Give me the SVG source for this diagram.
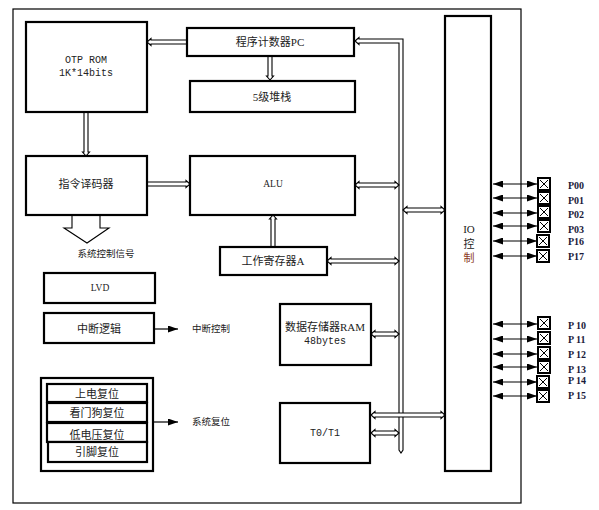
<svg xmlns="http://www.w3.org/2000/svg" xmlns:xlink="http://www.w3.org/1999/xlink" width="599" height="510" viewBox="0 0 599 510">
<style>
.box{fill:#fff;stroke:#000;stroke-width:2.2}
.hol{fill:#fff;stroke:#000;stroke-width:1.1;stroke-linejoin:miter}
.cn{font-family:"Liberation Serif","Noto Sans CJK SC",serif;font-size:11px;fill:#222;text-anchor:middle;dominant-baseline:central}
.sm{font-size:9.5px}
.mono{font-family:"Liberation Mono","Noto Sans CJK SC",monospace;font-size:10px;fill:#222;text-anchor:middle;dominant-baseline:central}
.pl{font-family:"Liberation Serif",serif;font-size:10px;font-weight:bold;fill:#1a1a3a;dominant-baseline:central}
.pin{stroke:#000;stroke-width:1.2;marker-start:url(#ah);marker-end:url(#ah)}
.arr{stroke:#000;stroke-width:1.2;marker-end:url(#ah)}
</style>
<defs>
<marker id="ah" viewBox="0 0 10 7" refX="10" refY="3.5" markerWidth="10" markerHeight="7" markerUnits="userSpaceOnUse" orient="auto-start-reverse">
<path d="M0,0 L10,3.5 L0,7 Z" fill="#000"/>
</marker>
<g id="pb">
<rect x="0" y="0" width="12" height="12" fill="#fff" stroke="#000" stroke-width="2"/>
<path d="M2,2 L10,10 M10,2 L2,10" stroke="#000" stroke-width="1"/>
</g>
</defs>
<rect width="599" height="510" fill="#fff"/>
<rect id="frame" x="13" y="9" width="508" height="494" fill="none" stroke="#000" stroke-width="1.2"/>

<g id="connectors">
<path class="hol" d="M355,41 L359,37.5 L359,39 L403,39 L403,450 L401,453 L399,450 L399,43 L359,43 L359,44.5 Z"/>
<polygon class="hol" points="147,42 151,38.5 151,40 187,40 187,44 151,44 151,45.5"/>
<polygon class="hol" points="270,80 266.5,76 268,76 268,56 272,56 272,76 273.5,76"/>
<polygon class="hol" points="86,156 82.5,152 84,152 84,112 88,112 88,152 89.5,152"/>
<polygon class="hol" points="190,184 186,180.5 186,182 147,182 147,186 186,186 186,187.5"/>
<polygon class="hol" points="273,215 269.5,219 271,219 271,247 275,247 275,219 276.5,219"/>
<polygon class="hol" points="355,185 359,181.5 359,183 395,183 395,181.5 399,185 395,188.5 395,187 359,187 359,188.5"/>
<polygon class="hol" points="403,210 407,206.5 407,208 441,208 441,206.5 445,210 441,213.5 441,212 407,212 407,213.5"/>
<polygon class="hol" points="327,261 331,257.5 331,259 395,259 395,257.5 399,261 395,264.5 395,263 331,263 331,264.5"/>
<polygon class="hol" points="371,334 375,330.5 375,332 395,332 395,330.5 399,334 395,337.5 395,336 375,336 375,337.5"/>
<polygon class="hol" points="371,415 375,411.5 375,413 441,413 441,411.5 445,415 441,418.5 441,417 375,417 375,418.5"/>
<polygon class="hol" points="371,433 375,429.5 375,431 395,431 395,429.5 399,433 395,436.5 395,435 375,435 375,436.5"/>
<polygon class="hol" points="64,228 72,228 72,215 100,215 100,228 109,228 87,243"/>
<line class="arr" x1="154" y1="329" x2="178" y2="329"/>
<line class="arr" x1="153" y1="422" x2="178" y2="422"/>
<line class="pin" x1="493" y1="184" x2="537" y2="184"/>
<line class="pin" x1="493" y1="198" x2="537" y2="198"/>
<line class="pin" x1="493" y1="213" x2="537" y2="213"/>
<line class="pin" x1="493" y1="226" x2="537" y2="226"/>
<line class="pin" x1="493" y1="241" x2="537" y2="241"/>
<line class="pin" x1="493" y1="256" x2="537" y2="256"/>
<line class="pin" x1="493" y1="324" x2="537" y2="324"/>
<line class="pin" x1="493" y1="339" x2="537" y2="339"/>
<line class="pin" x1="493" y1="354" x2="537" y2="354"/>
<line class="pin" x1="493" y1="367" x2="537" y2="367"/>
<line class="pin" x1="493" y1="382" x2="537" y2="382"/>
<line class="pin" x1="493" y1="396" x2="537" y2="396"/>
</g>

<g id="rom"><rect class="box" x="26" y="22" width="121" height="90"/>
<text class="mono" x="86" y="60">OTP ROM</text><text class="mono" x="86" y="73">1K*14bits</text></g>
<g id="pc"><rect class="box" x="187" y="28" width="167" height="28"/><text class="cn" x="270" y="42">程序计数器PC</text></g>
<g id="stack"><rect class="box" x="190" y="81" width="165" height="31"/><text class="cn" x="272" y="97">5级堆栈</text></g>
<g id="decoder"><rect class="box" x="26" y="156" width="121" height="59"/><text class="cn" x="86" y="184">指令译码器</text></g>
<g id="alu"><rect class="box" x="190" y="156" width="165" height="59"/><text class="cn sm" x="273" y="184">ALU</text></g>
<g id="acc"><rect class="box" x="220" y="247" width="107" height="28"/><text class="cn" x="273" y="261">工作寄存器A</text></g>
<g id="ram"><rect class="box" x="280" y="304" width="91" height="61"/><text class="cn" x="325" y="327">数据存储器RAM</text><text class="mono" x="325" y="341">48bytes</text></g>
<g id="timer"><rect class="box" x="280" y="403" width="90" height="60"/><text class="mono" x="325" y="433">T0/T1</text></g>
<g id="io"><rect class="box" x="445" y="16" width="46" height="455"/>
<text class="cn" x="469" y="229">IO</text><text class="cn" x="469" y="244">控</text><text class="cn" x="469" y="258" style="fill:#8b3a1e">制</text></g>
<g id="sysctl"><text class="cn sm" x="106" y="254">系统控制信号</text></g>
<g id="lvd"><rect class="box" x="44" y="273" width="111" height="30"/><text class="cn sm" x="100" y="288">LVD</text></g>
<g id="int"><rect class="box" x="44" y="313" width="110" height="30"/><text class="cn" x="99" y="329">中断逻辑</text></g>
<g id="intctl"><text class="cn sm" x="211" y="329">中断控制</text></g>
<g id="reset"><rect class="box" x="41" y="378" width="112" height="93"/>
<rect class="box" x="47" y="384" width="100" height="18"/><text class="cn" x="97" y="394">上电复位</text>
<rect class="box" x="47" y="403" width="100" height="19"/><text class="cn" x="97" y="413">看门狗复位</text>
<rect class="box" x="47" y="423" width="100" height="19"/><text class="cn" x="97" y="435">低电压复位</text>
<rect class="box" x="48" y="442" width="99" height="20"/><text class="cn" x="97" y="452">引脚复位</text></g>
<g id="sysrst"><text class="cn sm" x="211" y="422">系统复位</text></g>

<g id="pins">
<use xlink:href="#pb" x="538" y="178"/><use xlink:href="#pb" x="538" y="192"/><use xlink:href="#pb" x="538" y="206"/>
<use xlink:href="#pb" x="538" y="220"/><use xlink:href="#pb" x="537" y="235"/><use xlink:href="#pb" x="537" y="250"/>
<use xlink:href="#pb" x="538" y="317"/><use xlink:href="#pb" x="538" y="332"/><use xlink:href="#pb" x="538" y="347"/>
<use xlink:href="#pb" x="538" y="361"/><use xlink:href="#pb" x="537" y="376"/><use xlink:href="#pb" x="537" y="390"/>
<text class="pl" x="568" y="185">P00</text><text class="pl" x="568" y="200">P01</text><text class="pl" x="568" y="214">P02</text>
<text class="pl" x="568" y="229">P03</text><text class="pl" x="568" y="241">P16</text><text class="pl" x="568" y="256">P17</text>
<text class="pl" x="568" y="325">P 10</text><text class="pl" x="568" y="339">P 11</text><text class="pl" x="568" y="354">P 12</text>
<text class="pl" x="568" y="369">P 13</text><text class="pl" x="568" y="380">P 14</text><text class="pl" x="568" y="395">P 15</text>
</g>
</svg>
